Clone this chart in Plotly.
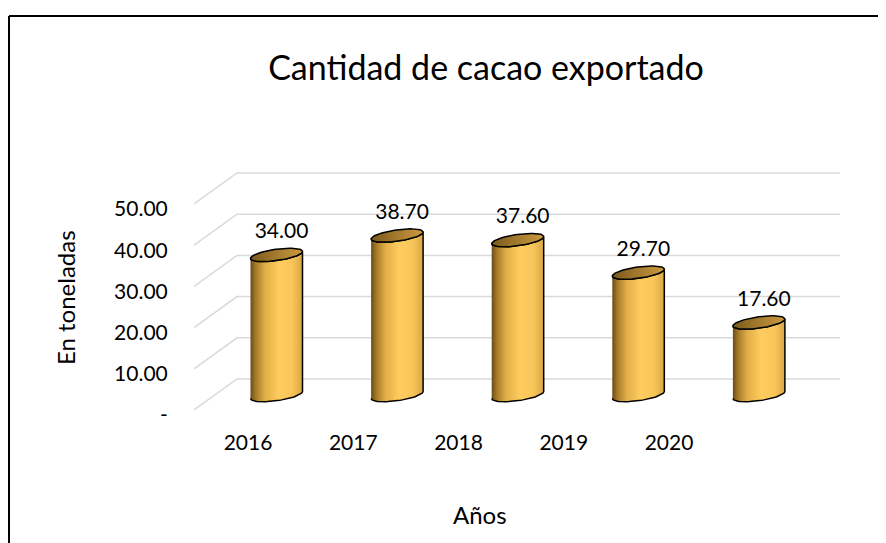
import numpy as np
import plotly.graph_objects as go

# ---------------- data ----------------
years = ["2016", "2017", "2018", "2019", "2020"]
tons = [34.00, 38.70, 37.60, 29.70, 17.60]
y_tickvals = [0, 10, 20, 30, 40, 50]
y_ticktext = ["-", "10.00", "20.00", "30.00", "40.00", "50.00"]
title_text = "Cantidad de cacao exportado"
x_title = "Años"
y_title = "En toneladas"

# ---------------- layout geometry (page pixels) ----------------
OFF = 8                      # default page body margin
W, H = 886 - OFF, 543 - OFF  # figure size fitting the window

def px(p):   # page pixel -> figure pixel
    return p - OFF

L = px(194)
R = W - px(840)
T = px(150)
B = H - px(420)
PXX = 120.6          # px per category step (cylinders)
PXY = 4.12           # px per ton
X0_PX = px(276.5)    # figure x of first cylinder centre
Y0_PX = px(410.0)    # figure y of value 0 on the front edge
LBL_X0_PX = px(248.0)
LBL_STEP = 105.25

x_range = [(L - X0_PX) / PXX, (W - R - X0_PX) / PXX]
y_range = [(Y0_PX - (H - B)) / PXY, (Y0_PX - T) / PXY]
x2_range = [(L - LBL_X0_PX) / LBL_STEP, (W - R - LBL_X0_PX) / LBL_STEP]

PW = W - L - R
PH = H - T - B

def xp(p):   # page pixel x -> paper coordinate
    return (px(p) - L) / PW

def yp(p):   # page pixel y -> paper coordinate
    return ((H - B) - px(p)) / PH

# 3D oblique depth (back wall offset) in data units
DEPTH_DX = 43 / PXX
DEPTH_DY = 31 / PXY
CYL_DY = 15 / PXY          # cylinder axis sits mid-depth
HALF_W = 26 / PXX          # cylinder radius (x units)
TILT = 3.5 / PXY           # ellipse tilt
MINOR = 5.7 / PXY          # ellipse minor

fig = go.Figure()

# ---------------- gridlines (side wall + back wall) ----------------
x_front = x_range[0]
x_back = x_front + DEPTH_DX
x_right = x_range[1]
gx, gy = [], []
for v in y_tickvals:
    gx += [x_front, x_back, x_right, None]
    gy += [v, v + DEPTH_DY, v + DEPTH_DY, None]
fig.add_trace(go.Scatter(x=gx, y=gy, mode="lines",
                         line=dict(color="#D9D9D9", width=1.5),
                         hoverinfo="skip", showlegend=False))

# ---------------- cylinders ----------------
body_scale = [[0.0, "#6a4c16"], [0.1, "#a57a28"], [0.28, "#e2ae48"],
              [0.55, "#ffcd5f"], [0.8, "#f8c658"], [1.0, "#d9a646"]]
top_scale = [[0.0, "#7a5a1c"], [0.5, "#a47a2e"], [1.0, "#cc9b3e"]]

t_front = np.linspace(np.pi, 0, 40)
t_full = np.linspace(0, 2 * np.pi, 80)

def ell(cx, cy, t):
    return cx + HALF_W * np.cos(t), cy + TILT * np.cos(t) - MINOR * np.sin(t)

for i, v in enumerate(tons):
    cx = i
    base = CYL_DY
    top = v + CYL_DY
    bx, by = ell(cx, base, t_front)           # bottom front arc, left -> right
    tx, ty = ell(cx, top, t_front[::-1])      # top front arc, right -> left
    xs = np.concatenate([bx, tx, bx[:1]])
    ys = np.concatenate([by, ty, [ty[-1]]])
    fig.add_trace(go.Scatter(x=xs, y=ys, mode="lines", fill="toself",
                             fillgradient=dict(type="horizontal", colorscale=body_scale),
                             line=dict(color="black", width=1.5),
                             hoverinfo="skip", showlegend=False))
    ex, ey = ell(cx, top, t_full)
    fig.add_trace(go.Scatter(x=ex, y=ey, mode="lines", fill="toself",
                             fillgradient=dict(type="horizontal", colorscale=top_scale),
                             line=dict(color="black", width=1.5),
                             hoverinfo="skip", showlegend=False))

# ---------------- data labels ----------------
LBL_DY = 22 / PXY
LBL_DX = 5 / PXX
fig.add_trace(go.Scatter(
    x=[i + LBL_DX for i in range(len(tons))],
    y=[v + CYL_DY + LBL_DY for v in tons],
    text=[f"{v:.2f}" for v in tons],
    mode="text", textposition="middle center",
    textfont=dict(family="Lato", size=21, color="black"),
    hoverinfo="skip", showlegend=False))

# trace on the label axis so it renders
fig.add_trace(go.Scatter(x=list(range(len(years))), y=[None] * len(years),
                         xaxis="x2", mode="markers", showlegend=False,
                         hoverinfo="skip"))

font_family = "Lato"
fig.update_layout(
    width=W, height=H,
    margin=dict(l=L, r=R, t=T, b=B, autoexpand=False),
    paper_bgcolor="white", plot_bgcolor="rgba(0,0,0,0)",
    template="none",
    showlegend=False,
    font=dict(family=font_family, color="black"),
    title=dict(text=title_text, x=px(486) / W, xanchor="center",
               y=1 - px(68) / H, yanchor="middle", xref="container", yref="container",
               font=dict(family=font_family, size=34, color="black")),
    xaxis=dict(range=x_range, showgrid=False, zeroline=False, showline=False,
               showticklabels=False, ticks="", automargin=False, fixedrange=True),
    xaxis2=dict(range=x2_range, overlaying="x", side="bottom", anchor="y",
                tickmode="array", tickvals=list(range(len(years))), ticktext=years,
                showgrid=False, zeroline=False, showline=False,
                ticks="outside", ticklen=4, tickcolor="rgba(0,0,0,0)",
                tickfont=dict(family=font_family, size=21, color="black"),
                automargin=False, fixedrange=True),
    yaxis=dict(range=y_range, tickmode="array", tickvals=y_tickvals,
               ticktext=y_ticktext, showgrid=False, zeroline=False, showline=False,
               ticks="outside", ticklen=21, tickcolor="rgba(0,0,0,0)",
               ticklabelshift=5,
               tickfont=dict(family=font_family, size=21, color="black"),
               automargin=False, fixedrange=True),
    annotations=[
        dict(text=x_title, xref="paper", yref="paper",
             x=xp(480), y=yp(514),
             showarrow=False, xanchor="center", yanchor="middle",
             font=dict(family=font_family, size=24, color="black")),
        dict(text=y_title, xref="paper", yref="paper",
             x=xp(65), y=yp(298),
             showarrow=False, xanchor="center", yanchor="middle", textangle=-90,
             font=dict(family=font_family, size=24, color="black")),
    ],
    shapes=[
        dict(type="line", xref="paper", yref="paper",
             x0=xp(9), x1=xp(900), y0=yp(16), y1=yp(16),
             line=dict(color="black", width=2)),
        dict(type="line", xref="paper", yref="paper",
             x0=xp(9), x1=xp(9), y0=yp(16), y1=yp(560),
             line=dict(color="black", width=2)),
    ],
)

fig.write_html("out.html")
